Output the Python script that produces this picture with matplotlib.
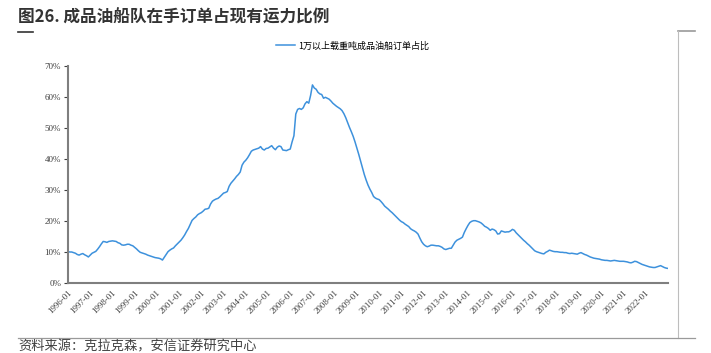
# Share of product tanker orderbook vs existing fleet (monthly, 1996-01 .. 2023-01)

import matplotlib
matplotlib.use("Agg")

import matplotlib.pyplot as plt
import numpy as np
from matplotlib.lines import Line2D

cjkFonts = ["Noto Sans CJK SC", "DejaVu Sans"]

titleText = "图26. 成品油船队在手订单占现有运力比例"
seriesName = "1万以上载重吨成品油船订单占比"
sourceText = "资料来源：克拉克森，安信证券研究中心"

# monthly values in %, one row per year, starting 1996-01
orderRatio = [
    10.1, 10.0, 10.0, 9.8, 9.6, 9.2, 9.0, 9.3, 9.5, 9.1, 8.8, 8.4,          # 1996
    9.0, 9.6, 9.9, 10.2, 10.9, 11.7, 12.6, 13.4, 13.3, 13.1, 13.4, 13.5,    # 1997
    13.6, 13.5, 13.4, 13.0, 12.8, 12.3, 12.2, 12.3, 12.5, 12.5, 12.2, 12.0,  # 1998
    11.5, 11.0, 10.4, 9.9, 9.7, 9.5, 9.3, 9.0, 8.8, 8.6, 8.4, 8.2,          # 1999
    8.1, 8.0, 7.8, 7.4, 8.3, 9.2, 10.1, 10.6, 11.0, 11.3, 12.0, 12.6,       # 2000
    13.2, 13.8, 14.6, 15.5, 16.6, 17.6, 18.9, 20.2, 20.8, 21.3, 22.0, 22.4,  # 2001
    22.7, 23.2, 23.8, 23.9, 24.1, 25.5, 26.4, 26.8, 27.1, 27.3, 27.8, 28.4,  # 2002
    29.0, 29.2, 29.5, 31.2, 32.2, 32.9, 33.6, 34.4, 35.0, 35.8, 38.0, 39.0,  # 2003
    39.6, 40.4, 41.4, 42.5, 42.9, 43.1, 43.3, 43.5, 44.0, 43.2, 42.9, 43.4,  # 2004
    43.5, 43.9, 44.3, 43.5, 43.0, 43.8, 44.2, 44.0, 42.9, 42.8, 42.7, 43.0,  # 2005
    43.2, 45.5, 47.5, 54.5, 56.0, 56.3, 56.0, 56.5, 57.8, 58.5, 58.0, 60.5,  # 2006
    63.9, 62.9, 62.5, 61.5, 61.0, 60.8, 59.6, 59.9, 59.6, 59.3, 58.7, 58.0,  # 2007
    57.5, 57.0, 56.6, 56.2, 55.6, 54.6, 53.3, 51.7, 50.2, 48.8, 47.3, 45.5,  # 2008
    43.5, 41.5, 39.3, 37.0, 35.0, 33.2, 31.6, 30.3, 29.2, 27.9, 27.4, 27.1,  # 2009
    26.9, 26.3, 25.6, 24.8, 24.3, 23.8, 23.2, 22.7, 22.1, 21.5, 20.9, 20.3,  # 2010
    19.8, 19.5, 19.0, 18.6, 18.2, 17.5, 17.1, 16.8, 16.4, 15.8, 14.5, 13.3,  # 2011
    12.5, 12.0, 11.7, 11.9, 12.2, 12.2, 12.1, 12.0, 12.0, 11.8, 11.5, 11.0,  # 2012
    10.8, 11.0, 11.2, 11.2, 12.2, 13.2, 13.8, 14.1, 14.4, 14.8, 16.3, 17.5,  # 2013
    18.6, 19.5, 19.9, 20.1, 20.1, 19.9, 19.7, 19.4, 18.9, 18.3, 18.0, 17.6,  # 2014
    17.0, 17.4, 17.2, 16.8, 15.8, 15.9, 16.8, 16.6, 16.4, 16.5, 16.5, 16.8,  # 2015
    17.3, 17.0, 16.2, 15.6, 15.0, 14.4, 13.8, 13.3, 12.7, 12.2, 11.6, 11.0,  # 2016
    10.4, 10.1, 9.9, 9.7, 9.5, 9.4, 9.9, 10.2, 10.6, 10.4, 10.2, 10.1,      # 2017
    10.1, 10.0, 9.9, 9.9, 9.8, 9.8, 9.6, 9.5, 9.6, 9.5, 9.4, 9.3,           # 2018
    9.6, 9.8, 9.5, 9.2, 9.0, 8.7, 8.4, 8.2, 8.0, 7.9, 7.8, 7.7,             # 2019
    7.5, 7.4, 7.3, 7.3, 7.2, 7.1, 7.2, 7.3, 7.2, 7.1, 7.0, 7.0,             # 2020
    7.0, 6.9, 6.8, 6.6, 6.5, 6.7, 7.0, 6.9, 6.6, 6.3, 6.0, 5.8,             # 2021
    5.6, 5.4, 5.2, 5.1, 5.0, 5.0, 5.2, 5.4, 5.6, 5.3, 5.0, 4.8,             # 2022
    4.7,                                                                    # 2023
]

yearLabels = [str(y) + "-01" for y in range(1996, 2023)]
yTicks = [0, 10, 20, 30, 40, 50, 60, 70]

W, H = 711, 353


def fx(px):
    return px / W


def fy(py):
    return 1 - py / H


fig = plt.figure(figsize=(W / 100, H / 100), dpi=100)
ax = fig.add_axes([fx(68), fy(283), (668 - 68) / W, (283 - 66) / H])

months = np.arange(len(orderRatio))
ax.plot(months, np.array(orderRatio) / 100, color="#3d91dc", linewidth=1.1,
        label=seriesName)

ax.set_xlim(0, len(orderRatio) - 1)
ax.set_ylim(0, 0.7)

ax.set_yticks([v / 100 for v in yTicks])
ax.set_yticklabels([str(v) + "%" for v in yTicks], fontfamily="Liberation Serif",
                   fontsize=6.5, color="#404040")
ax.set_xticks(np.arange(0, len(yearLabels) * 12, 12))
ax.set_xticklabels(yearLabels, rotation=45, ha="right", rotation_mode="anchor",
                   fontfamily="Liberation Serif", fontsize=6.5, color="#404040")

ax.tick_params(axis="y", length=3, width=0.8, color="#404040", pad=2)
ax.tick_params(axis="x", length=0, pad=4)

for side in ["top", "right"]:
    ax.spines[side].set_visible(False)
for side in ["left", "bottom"]:
    ax.spines[side].set_color("#7f7f7f")
    ax.spines[side].set_linewidth(1.5)

leg = fig.legend(loc="center left", bbox_to_anchor=(fx(276), fy(46)), frameon=False,
                 handlelength=2.1, handletextpad=0.4, borderpad=0, borderaxespad=0,
                 prop={"family": cjkFonts, "size": 6.5})

# title, source and frame lines
fig.text(fx(18), fy(18), titleText, fontfamily=cjkFonts, fontsize=12,
         fontweight="bold", color="#333333", va="center", ha="left")
fig.text(fx(18), fy(347), sourceText, fontfamily=cjkFonts, fontsize=9.5,
         fontstyle="italic", color="#404040", va="center", ha="left")

fig.add_artist(Line2D([fx(18), fx(33)], [fy(32), fy(32)], color="#333333", linewidth=1.2))
fig.add_artist(Line2D([fx(678), fx(695)], [fy(31), fy(31)], color="#9a9a9a", linewidth=1.2))
fig.add_artist(Line2D([fx(678), fx(678)], [fy(31), fy(338)], color="#bdbdbd", linewidth=0.8))
fig.add_artist(Line2D([fx(18), fx(695)], [fy(338), fy(338)], color="#9a9a9a", linewidth=0.9))

fig.savefig("out.png", dpi=100)
plt.close(fig)
